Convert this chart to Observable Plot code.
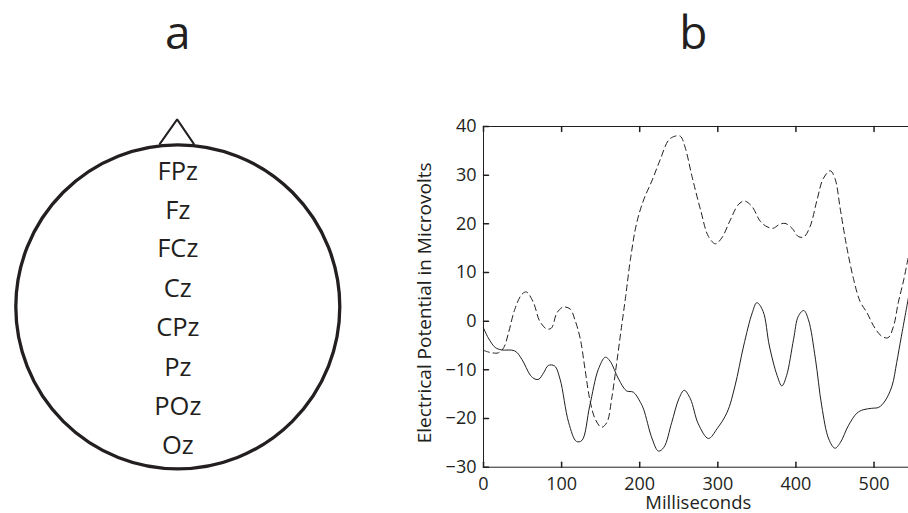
<!DOCTYPE html>
<html><head><meta charset="utf-8">
<script src="https://cdn.jsdelivr.net/npm/d3@7"></script>
<script src="https://cdn.jsdelivr.net/npm/@observablehq/plot@0.6"></script>
<style>
html,body{margin:0;padding:0;background:#fff;overflow:hidden;}
#wrap{position:relative;width:908px;height:513px;overflow:hidden;background:#fff;}
#wrap > svg{position:absolute;left:0;top:0;}
</style></head><body><div id="wrap"></div>
<script>
// ---- Panel a: midline electrodes ----
const electrodes = ["FPz","Fz","FCz","Cz","CPz","Pz","POz","Oz"];
const electrodeY = [0.836,0.594,0.356,0.109,-0.132,-0.379,-0.617,-0.860];
const noseX = [-0.111,-0.004,0.099];
const noseY = [1.006,1.157,1.006];
const panelTitles = ["a","b"];

// ---- Panel b: ERP waveforms ----
const msSolid = [0,6,15,23,40,49,60,66,71,77,83,91,98,109,119,126,136,147,156,162,173,183,192,201,205,216,224,231,241,250,257,265,275,288,299,312,322,333,344,350,358,366,376,382,388,397,403,410,416,425,433,442,450,457,467,478,486,497,506,514,523,529,535,544];
const uvSolid = [-1.4,-3.4,-5.4,-5.9,-6.1,-7.8,-11.1,-11.9,-11.9,-10.6,-9.1,-9.2,-11.9,-20.8,-24.7,-24.5,-17.4,-9.9,-7.4,-8.2,-11.9,-14.3,-14.6,-16.7,-18.1,-24.2,-26.7,-25.9,-20.8,-16.0,-14.2,-16.0,-21.1,-24.1,-22.1,-18.7,-13.3,-5.1,1.7,3.8,2.0,-5.1,-11.2,-13.3,-11.2,-3.7,1.0,2.2,0.3,-7.8,-17.4,-24.2,-26.1,-24.9,-21.5,-18.9,-18.2,-17.9,-17.7,-16.4,-13.3,-8.5,-3.1,4.8];
const msDashed = [0,8,19,26,32,40,49,55,64,72,81,87,94,102,111,117,124,130,136,143,151,158,164,170,176,182,188,196,205,216,226,237,245,252,258,267,278,288,297,305,316,326,334,344,354,363,371,378,386,395,403,410,418,427,435,444,450,457,465,474,482,491,501,510,518,525,531,538,544];
const uvDashed = [-6.0,-6.4,-6.5,-5.4,-2.4,2.4,5.5,6.0,3.8,0.0,-1.6,-1.4,1.7,2.9,2.5,0.3,-3.7,-9.9,-16.0,-20.1,-21.8,-20.8,-16.0,-9.2,-2.0,5.1,12.6,20.1,24.9,29.0,33.1,37.2,38.0,38.0,35.8,29.7,22.8,17.4,15.9,17.1,20.8,23.9,24.7,23.5,20.6,19.4,19.1,19.8,20.1,19.1,17.4,17.3,19.4,24.9,29.3,30.9,29.3,22.8,15.3,8.5,4.1,1.7,-1.4,-3.1,-3.4,-1.0,3.8,8.5,13.3];
const xTicks = [0,100,200,300,400,500];
const yTicks = [-30,-20,-10,0,10,20,30,40];
const xDomain = [0,550];
const yDomain = [-30,40];
const xLabel = "Milliseconds";
const yLabel = "Electrical Potential in Microvolts";

const FONT = "'Open Sans', sans-serif";
const INK = "#231f20";
const tickShape = {draw(ctx, l){ ctx.moveTo(0,0); ctx.lineTo(0,-l); }};
const fmt = d => d < 0 ? "\u2212" + Math.abs(d) : String(d);

const solid = msSolid.map((x,i)=>({x, y: uvSolid[i]}));
const dashed = msDashed.map((x,i)=>({x, y: uvDashed[i]}));
const nose = noseX.map((x,i)=>({x, y: noseY[i]}));
const labels = electrodes.map((name,i)=>({name, y: electrodeY[i]}));

const baseStyle = {fontFamily: FONT, background: "transparent", maxWidth: "none", color: INK, overflow: "visible"};

const chartB = Plot.plot({
  width: 930, height: 513,
  marginLeft: 483, marginRight: 17.4, marginTop: 126, marginBottom: 46.3,
  x: {domain: xDomain}, y: {domain: yDomain},
  style: baseStyle,
  marks: [
    Plot.line(dashed, {x: "x", y: "y", stroke: INK, strokeWidth: 1, strokeDasharray: "6,4", curve: "catmull-rom"}),
    Plot.line(solid, {x: "x", y: "y", stroke: INK, strokeWidth: 1, curve: "catmull-rom"}),
    Plot.frame({stroke: INK, strokeWidth: 1}),
    Plot.vector(xTicks, {x: d => d, frameAnchor: "bottom", length: 5, rotate: 0, anchor: "start", shape: tickShape, stroke: INK}),
    Plot.vector(xTicks, {x: d => d, frameAnchor: "top", length: 5, rotate: 180, anchor: "start", shape: tickShape, stroke: INK}),
    Plot.vector(yTicks, {y: d => d, frameAnchor: "left", length: 5, rotate: 90, anchor: "start", shape: tickShape, stroke: INK}),
    Plot.axisX(xTicks, {tickSize: 0, tickPadding: 10.5, tickFormat: fmt, fontSize: 18, label: null}),
    Plot.axisY(yTicks, {tickSize: 0, tickPadding: 7, tickFormat: fmt, fontSize: 18, label: null}),
    Plot.text([xLabel], {frameAnchor: "bottom", dy: 42, lineAnchor: "bottom", fontSize: 18.5}),
    Plot.text([yLabel], {frameAnchor: "left", dx: -59, dy: 6, rotate: -90, fontSize: 19, textAnchor: "middle", lineAnchor: "middle"}),
    Plot.text([panelTitles[1]], {frameAnchor: "top", dx: -5, dy: -78, lineAnchor: "bottom", fontSize: 46})
  ]
});

const chartA = Plot.plot({
  width: 360, height: 513,
  marginLeft: 15.5, marginRight: 20.9, marginTop: 144.3, marginBottom: 44.7,
  x: {domain: [-1,1], axis: null}, y: {domain: [-1,1], axis: null},
  style: baseStyle,
  marks: [
    Plot.line(nose, {x: "x", y: "y", stroke: INK, strokeWidth: 2, strokeLinejoin: "miter"}),
    Plot.dot([0], {x: 0, y: 0, r: 162, stroke: INK, strokeWidth: 3.3, fill: "none"}),
    Plot.text(labels, {x: 0, y: "y", text: "name", fontSize: 25.5, lineAnchor: "middle"}),
    Plot.text([panelTitles[0]], {frameAnchor: "top", dy: -96, lineAnchor: "bottom", fontSize: 46})
  ]
});

const wrap = document.getElementById("wrap");
wrap.appendChild(chartB);
wrap.appendChild(chartA);
</script></body></html>
